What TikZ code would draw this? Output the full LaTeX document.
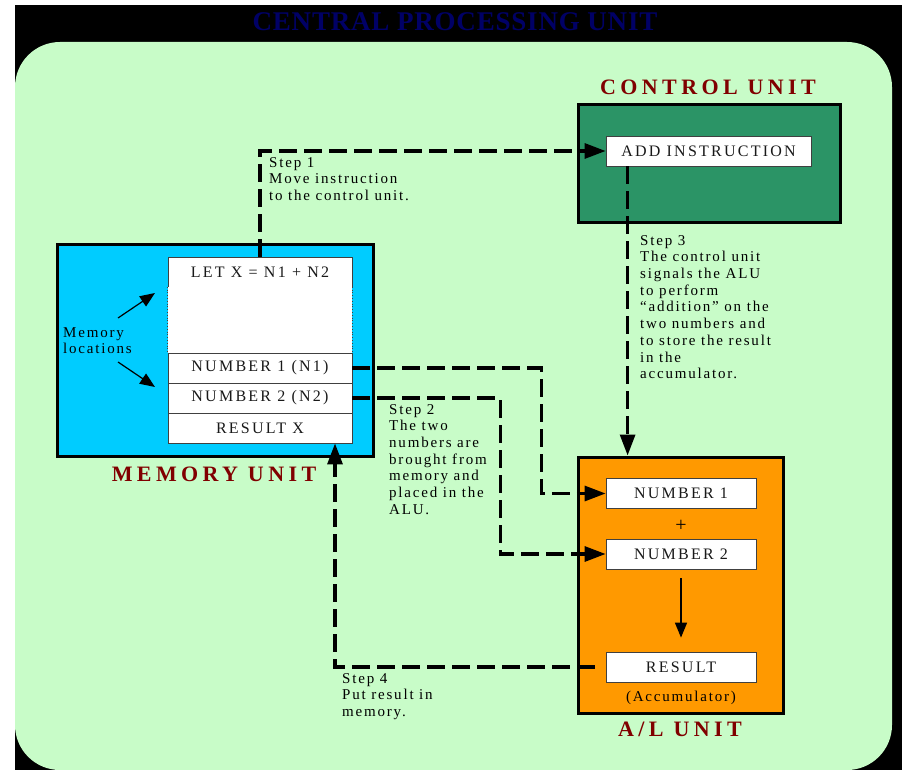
\documentclass[tikz,border=0pt]{standalone}
\usepackage{fontspec}
\setmainfont{Liberation Serif}
\newfontfamily\spc[LetterSpace=12]{Liberation Serif}
\newfontfamily\boxf[LetterSpace=14]{Liberation Serif}
\newfontfamily\hdr[LetterSpace=20]{Liberation Serif}
\newfontfamily\ttl[LetterSpace=3]{Liberation Serif}
\usetikzlibrary{arrows.meta}
\definecolor{bggreen}{HTML}{C8FCC8}
\definecolor{cugreen}{HTML}{2B9466}
\definecolor{memblue}{HTML}{00CCFF}
\definecolor{aluorange}{HTML}{FF9900}
\definecolor{darkred}{HTML}{800000}
\definecolor{navy}{HTML}{000066}
\tikzset{
  unitbox/.style={draw=black, line width=3pt, inner sep=0pt},
  cell/.style={draw=black!75, fill=white, line width=0.8pt, inner sep=0pt,
    font=\boxf\fontsize{16}{18}\selectfont, text=black!90},
  unitlabel/.style={font=\hdr\bfseries\fontsize{22}{24}\selectfont, text=darkred, anchor=base, inner sep=0pt},
  steptext/.style={font=\spc\fontsize{15}{16.7}\selectfont, text=black, align=left, anchor=north west, inner sep=0pt},
  flow/.style={draw=black, line width=3.1pt, dash pattern=on 18pt off 7pt,
    -{Triangle[length=21pt,width=15pt]}},
  thinarrow/.style={draw=black, line width=1.2pt, -{Triangle[length=15pt,width=12pt]}}
}
\begin{document}
\begin{tikzpicture}[x=1pt,y=-1pt]
\useasboundingbox (0,0) rectangle (902,770);
\fill[black] (15,5) rectangle (902,770);
\fill[bggreen, rounded corners=45pt] (15,42) rectangle (892,770);

% title
\node[font=\ttl\bfseries\fontsize{27}{30}\selectfont, text=navy, anchor=base, inner sep=0pt] (title) at (455,31) {CENTRAL PROCESSING UNIT};

% control unit
\node[unitlabel] (culabel) at (708,95) {CONTROL UNIT};
\node[unitbox, fill=cugreen, minimum width=262pt, minimum height=118pt] (cu) at (709,164) {};
\node[cell, minimum width=205pt, minimum height=30pt] (addinstr) at (708.5,151) {ADD INSTRUCTION};

% memory unit
\node[unitbox, fill=memblue, minimum width=316pt, minimum height=212pt] (mem) at (215,350) {};
\node[unitlabel] (memlabel) at (214,481) {MEMORY UNIT};
\node[cell, minimum width=184pt, minimum height=30pt] (letx) at (260,272) {LET X = N1 + N2};
\node[fill=white, inner sep=0pt, minimum width=184pt, minimum height=66pt] (blank) at (260,320) {};
\draw[black!75, line width=0.8pt, dotted] (blank.north west) -- (blank.south west);
\draw[black!75, line width=0.8pt, dotted] (blank.north east) -- (blank.south east);
\node[cell, minimum width=184pt, minimum height=30pt] (n1) at (260,368) {NUMBER 1 (N1)};
\node[cell, minimum width=184pt, minimum height=30pt] (n2) at (260,398) {NUMBER 2 (N2)};
\node[cell, minimum width=184pt, minimum height=30pt] (resx) at (260,428) {RESULT X};

\node[steptext] (memtext) at (63,327) {Memory\\locations};
\coordinate (ma1) at (155,293);
\coordinate (ma2) at (155,387);
\draw[thinarrow] ([shift={(55pt,9pt)}]memtext.north west) -- (ma1);
\draw[thinarrow] ([shift={(55pt,-35pt)}]memtext.north west) -- (ma2);

% ALU
\node[unitbox, fill=aluorange, minimum width=205pt, minimum height=256pt] (alu) at (680.5,585) {};
\node[unitlabel] (alulabel) at (680,736) {A/L UNIT};
\node[cell, minimum width=150pt, minimum height=30pt] (num1) at (681,493.5) {NUMBER 1};
\node[font=\fontsize{20}{22}\selectfont, inner sep=0pt] (plus) at (681,526) {+};
\node[cell, minimum width=150pt, minimum height=30pt] (num2) at (681,554) {NUMBER 2};
\node[cell, minimum width=150pt, minimum height=30pt] (result) at (681,667) {RESULT};
\node[font=\spc\fontsize{15}{17}\selectfont, text=black, inner sep=0pt] (accum) at (681,698) {(Accumulator)};
\draw[thinarrow, line width=1.4pt, shorten <=9pt, shorten >=14pt] (num2.south) -- (result.north);

% step 1
\draw[flow] (letx.north) |- (addinstr.west);
\node[steptext] (s1) at (269,157) {Step 1\\Move instruction\\to the control unit.};

% step 3
\draw[flow] ([xshift=22pt]addinstr.south west) -- ([xshift=22pt]addinstr.south west |- alu.north);
\node[steptext] (s3) at (640,235) {Step 3\\The control unit\\signals the ALU\\to perform\\“addition” on the\\two numbers and\\to store the result\\in the\\accumulator.};

% step 2
\draw[flow] (n1.east) -- ++(189,0) |- (num1.west);
\draw[flow] (n2.east) -- ++(148,0) |- (num2.west);
\node[steptext] (s2) at (389,404) {Step 2\\The two\\numbers are\\brought from\\memory and\\placed in the\\ALU.};

% step 4
\draw[flow] ([xshift=-11pt]result.west) -| ([xshift=75pt]resx.south);
\node[steptext] (s4) at (342,673) {Step 4\\Put result in\\memory.};
\end{tikzpicture}
\end{document}
